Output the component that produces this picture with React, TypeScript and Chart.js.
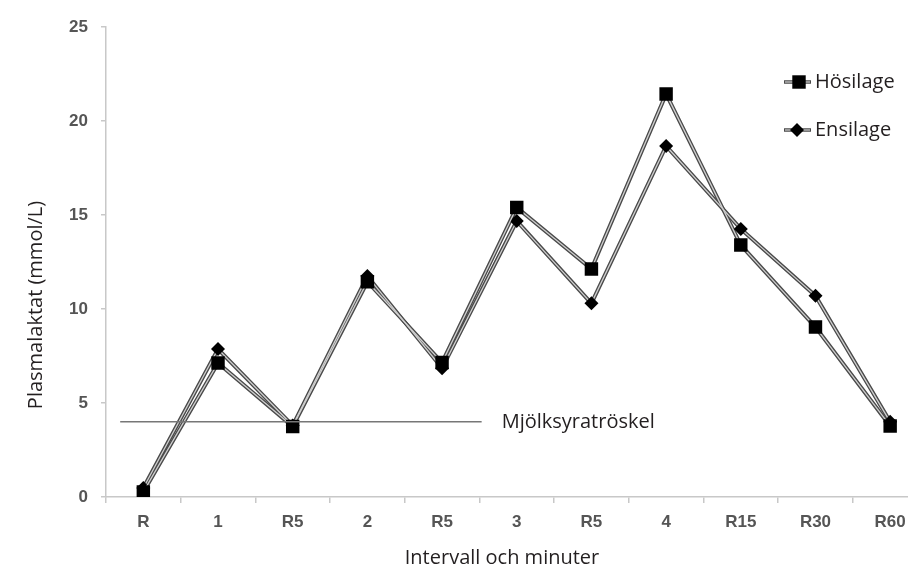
import React, { useEffect, useRef } from "react";
import { Chart, registerables } from "chart.js";

Chart.register(...registerables);

const categories = ["R", "1", "R5", "2", "R5", "3", "R5", "4", "R15", "R30", "R60"];
const hosilage = [0.27, 7.13, 3.75, 11.45, 7.15, 15.4, 12.13, 21.44, 13.4, 9.04, 3.78];
const ensilage = [0.48, 7.87, 3.8, 11.75, 6.85, 14.68, 10.3, 18.67, 14.26, 10.7, 4.0];
const seriesNames = ["Hösilage", "Ensilage"];
const yTicks = [0, 5, 10, 15, 20, 25];

const thresholdValue = 4;
const thresholdFrom = -0.31; // category index units
const thresholdTo = 4.53;
const thresholdLabel = "Mjölksyratröskel";
const xTitle = "Intervall och minuter";
const yTitle = "Plasmalaktat (mmol/L)";

const OUTER = "#4a4a4a";
const INNER = "#cfcfcf";
const TEXT = "#231f20";
const TICK = "#555555";
const AXIS = "#c8c8c8";
const TITLE_FONT = "'Open Sans', sans-serif";

function drawMarker(ctx: CanvasRenderingContext2D, style: string, r: number, x: number, y: number) {
  ctx.beginPath();
  if (style === "rect") {
    const s = Math.SQRT1_2 * r;
    ctx.rect(x - s, y - s, 2 * s, 2 * s);
  } else {
    ctx.moveTo(x - r, y);
    ctx.lineTo(x, y - r);
    ctx.lineTo(x + r, y);
    ctx.lineTo(x, y + r);
    ctx.closePath();
  }
  ctx.fill();
}

const overlayPlugin = {
  id: "overlay",
  afterDatasetsDraw(chart: any) {
    const { ctx, scales } = chart;
    const x = scales.x;
    const y = scales.y;
    const yy = y.getPixelForValue(thresholdValue);
    const x0 = x.getPixelForValue(thresholdFrom);
    const x1 = x.getPixelForValue(thresholdTo);
    ctx.save();
    ctx.strokeStyle = "#777777";
    ctx.lineWidth = 1.5;
    ctx.beginPath();
    ctx.moveTo(x0, yy);
    ctx.lineTo(x1, yy);
    ctx.stroke();
    ctx.fillStyle = TEXT;
    ctx.font = `20px ${TITLE_FONT}`;
    ctx.textBaseline = "middle";
    ctx.textAlign = "left";
    ctx.fillText(thresholdLabel, x1 + 20, yy);

    // axis titles
    ctx.textAlign = "center";
    ctx.fillText(xTitle, 502, 558);
    ctx.save();
    ctx.translate(36, 305);
    ctx.rotate(-Math.PI / 2);
    ctx.fillText(yTitle, 0, 0);
    ctx.restore();

    // legend
    const items = [
      { name: seriesNames[0], style: "rect", r: 9.5, ly: 82, mx: 799 },
      { name: seriesNames[1], style: "rectRot", r: 7, ly: 130, mx: 797 },
    ];
    items.forEach((it) => {
      ctx.strokeStyle = OUTER;
      ctx.lineWidth = 3.5;
      ctx.beginPath();
      ctx.moveTo(784, it.ly);
      ctx.lineTo(811, it.ly);
      ctx.stroke();
      ctx.strokeStyle = INNER;
      ctx.lineWidth = 1.2;
      ctx.beginPath();
      ctx.moveTo(785, it.ly);
      ctx.lineTo(810, it.ly);
      ctx.stroke();
      ctx.fillStyle = "#000";
      drawMarker(ctx, it.style, it.r, it.mx, it.ly);
      ctx.fillStyle = TEXT;
      ctx.font = `20px ${TITLE_FONT}`;
      ctx.textAlign = "left";
      ctx.textBaseline = "middle";
      ctx.fillText(it.name, 815, it.ly);
    });
    ctx.restore();
  },
};

export default function App() {
  const canvasRef = useRef<HTMLCanvasElement | null>(null);

  useEffect(() => {
    document.body.style.margin = "0";
    const canvas = canvasRef.current;
    if (!canvas) return;
    const mkOuter = (data: number[], order: number) => ({
      label: "_outline",
      data,
      borderColor: OUTER,
      borderWidth: 4,
      pointRadius: 0,
      fill: false,
      tension: 0,
      order,
    });
    const chart = new Chart(canvas, {
      type: "line",
      data: {
        labels: categories,
        datasets: [
          {
            label: seriesNames[0],
            data: hosilage,
            borderColor: INNER,
            borderWidth: 1.3,
            pointStyle: "rect",
            pointRadius: 9.5,
            pointBackgroundColor: "#000",
            pointBorderColor: "#000",
            pointBorderWidth: 0,
            fill: false,
            tension: 0,
            order: 1,
          },
          {
            label: seriesNames[1],
            data: ensilage,
            borderColor: INNER,
            borderWidth: 1.3,
            pointStyle: "rectRot",
            pointRadius: 7,
            pointBackgroundColor: "#000",
            pointBorderColor: "#000",
            pointBorderWidth: 0,
            fill: false,
            tension: 0,
            order: 2,
          },
          mkOuter(hosilage, 3),
          mkOuter(ensilage, 4),
        ],
      },
      options: {
        responsive: false,
        animation: false,
        devicePixelRatio: 1,
        layout: { padding: { top: 27, right: 12.5, left: 0, bottom: 0 } },
        plugins: { legend: { display: false }, tooltip: { enabled: false } },
        scales: {
          x: {
            type: "category",
            offset: true,
            grid: {
              offset: true,
              drawOnChartArea: false,
              drawTicks: true,
              tickLength: 6,
              color: AXIS,
              lineWidth: 1.5,
            },
            border: { display: true, color: AXIS, width: 1.5 },
            ticks: {
              color: TICK,
              font: { family: "'Liberation Sans', Arial, sans-serif", size: 17, weight: "bold" },
              padding: 9,
              maxRotation: 0,
              autoSkip: false,
            },
            afterFit: (s: any) => {
              s.height = 74;
            },
          },
          y: {
            min: 0,
            max: 25,
            afterBuildTicks: (s: any) => {
              s.ticks = yTicks.map((v) => ({ value: v }));
            },
            grid: {
              drawOnChartArea: false,
              drawTicks: true,
              tickLength: 5,
              color: AXIS,
              lineWidth: 1.5,
            },
            border: { display: true, color: AXIS, width: 1.5 },
            ticks: {
              color: TICK,
              font: { family: "'Liberation Sans', Arial, sans-serif", size: 17, weight: "bold" },
              padding: 13,
            },
            afterFit: (s: any) => {
              s.width = 106;
            },
          },
        },
      },
      plugins: [overlayPlugin],
    } as any);
    return () => chart.destroy();
  }, []);

  return (
    <div style={{ width: 908, height: 571, overflow: "hidden", position: "relative" }}>
      <canvas ref={canvasRef} width={940} height={571} style={{ display: "block" }} />
    </div>
  );
}
